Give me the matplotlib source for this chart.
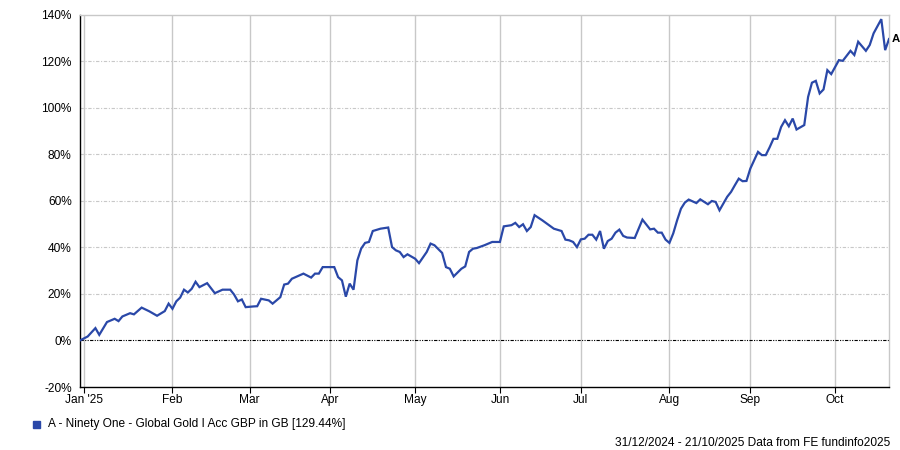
"""FE fundinfo style cumulative performance chart: Ninety One Global Gold."""
import matplotlib
matplotlib.use("Agg")
import matplotlib.pyplot as plt
import numpy as np
import pandas as pd

plt.rcParams["font.family"] = ["Liberation Sans", "DejaVu Sans"]

# trading days (weekdays) from 31/12/2024 to 21/10/2025; x axis is session based
sessions = pd.bdate_range("2024-12-31", "2025-10-21")

# readings: session number -> cumulative return (%)
day = [0, 2, 4, 5, 7, 9, 10, 11, 13, 14, 16, 18, 20, 22, 23, 24, 25, 26, 27, 28,
       29, 30, 31, 33, 35, 37, 39, 40, 41, 42, 43, 45, 46, 47, 49, 50, 52, 53, 54, 55,
       58, 60, 61, 62, 63, 66, 67, 68, 69, 70, 71, 72, 73, 74, 75, 76, 78, 80, 81, 82,
       83, 84, 85, 87, 88, 90, 91, 92, 94, 95, 96, 97, 99, 100, 101, 102, 103, 105, 107, 109,
       110, 112, 113, 114, 115, 116, 117, 118, 120, 123, 125, 126, 127, 128, 129, 130, 131, 132, 133, 134,
       135, 136, 137, 138, 139, 140, 141, 142, 144, 146, 148, 149, 150, 151, 152, 153, 154, 155, 156, 157,
       158, 160, 161, 163, 164, 165, 166, 168, 169, 170, 171, 172, 173, 174, 175, 176, 177, 178, 179, 180,
       181, 182, 183, 184, 185, 186, 188, 189, 190, 191, 192, 193, 194, 195, 197, 198, 200, 201, 202, 204,
       205, 206, 207, 208, 209, 210]
ret = [0.0, 1.7, 5.3, 2.4, 7.9, 9.3, 8.3, 10.3, 11.7, 11.2, 14.1, 12.5, 10.6, 12.6, 15.8, 13.6, 16.8, 18.4, 21.8, 20.6,
       22.2, 25.2, 22.9, 24.6, 20.3, 21.8, 21.8, 19.7, 16.8, 17.6, 14.3, 14.6, 14.7, 17.9, 17.2, 15.8, 18.6, 24.0, 24.4, 26.5,
       28.7, 27.0, 28.7, 28.7, 31.5, 31.5, 27.2, 25.8, 18.8, 24.4, 21.8, 34.4, 39.5, 41.9, 42.3, 47.0, 48.0, 48.5, 40.1, 38.7,
       38.0, 35.8, 37.0, 35.1, 33.2, 38.0, 41.6, 40.9, 37.6, 31.5, 30.8, 27.5, 30.8, 31.8, 38.0, 39.4, 39.7, 40.9, 42.3, 42.3,
       49.0, 49.5, 50.5, 48.7, 49.9, 47.0, 48.7, 53.8, 51.6, 48.0, 47.0, 43.3, 43.0, 42.3, 40.1, 43.4, 43.7, 45.4, 45.4, 43.3,
       47.0, 39.4, 42.7, 43.7, 46.3, 47.6, 44.9, 44.2, 44.0, 51.9, 47.7, 48.0, 46.3, 46.3, 43.3, 41.9, 46.0, 51.6, 56.6, 59.2,
       60.5, 59.0, 60.6, 58.5, 59.9, 59.5, 55.9, 61.7, 63.8, 66.7, 69.5, 68.4, 68.5, 73.8, 77.4, 81.0, 79.6, 79.6, 82.9, 86.6,
       86.6, 91.7, 94.6, 92.0, 95.3, 90.6, 92.5, 104.6, 110.7, 111.5, 106.1, 107.8, 116.1, 114.4, 120.4, 120.1, 124.4, 122.6, 128.3, 124.4,
       126.9, 131.9, 135.0, 138.0, 124.7, 129.44]

fund_name = "A - Ninety One - Global Gold I Acc GBP in GB [129.44%]"
period = "31/12/2024 - 21/10/2025 Data from FE fundinfo2025"
y_ticks = [-20, 0, 20, 40, 60, 80, 100, 120, 140]
month_labels = ["Jan '25", "Feb", "Mar", "Apr", "May", "Jun", "Jul", "Aug", "Sep", "Oct"]

BLUE = "#2a48a8"
GRID = "#c8c8c8"
FS = 8.6


def main() -> None:
    fig = plt.figure(figsize=(9, 4.5), dpi=100)
    ax = fig.add_axes([80 / 900, 1 - 387 / 450, 809 / 900, (387 - 14.5) / 450])

    # first session of each month gets a tick
    month_pos = []
    for m in range(1, 11):
        first = sessions[(sessions.month == m) & (sessions.year == 2025)][0]
        month_pos.append(sessions.get_loc(first))

    ax.plot(day, ret, color=BLUE, lw=1.6, solid_joinstyle="miter", zorder=3)
    ax.annotate("A", xy=(day[-1], ret[-1]), xytext=(2.5, 0), textcoords="offset pixels",
                fontsize=8.2, fontweight="bold", ha="left", va="center",
                annotation_clip=False)

    ax.set_xlim(0, len(sessions) - 1)
    ax.set_ylim(-20, 140)
    ax.set_yticks(y_ticks)
    ax.set_yticklabels([f"{v}%" for v in y_ticks])
    ax.set_xticks(month_pos)
    ax.set_xticklabels(month_labels)

    for v in y_ticks[2:-1]:
        ax.axhline(v, color=GRID, lw=0.8, ls=(0, (3, 1.5, 1, 1.5)), zorder=1)
    ax.axhline(0, color="black", lw=0.8, ls=(0, (3, 1.2, 1, 1.2, 1, 1.2)), zorder=2)
    for p in month_pos:
        ax.axvline(p, color=GRID, lw=1.0, zorder=1)

    for s in ("top", "right"):
        ax.spines[s].set_color(GRID)
        ax.spines[s].set_linewidth(1.0)
    for s in ("left", "bottom"):
        ax.spines[s].set_color("black")
        ax.spines[s].set_linewidth(1.0)

    ax.tick_params(axis="y", length=0, pad=6, labelsize=FS)
    ax.tick_params(axis="x", length=4, width=0.8, pad=1, labelsize=FS, direction="out")

    # legend row and footer
    fig.patches.append(plt.Rectangle((33 / 900, 1 - 428 / 450), 7 / 900, 7 / 450,
                                     transform=fig.transFigure, color=BLUE))
    fig.text(48 / 900, 1 - 424 / 450, fund_name, fontsize=FS, va="center", ha="left")
    fig.text(890 / 900, 1 - 443 / 450, period, fontsize=FS, va="center", ha="right")

    fig.savefig("out.png", dpi=100)


if __name__ == "__main__":
    main()
